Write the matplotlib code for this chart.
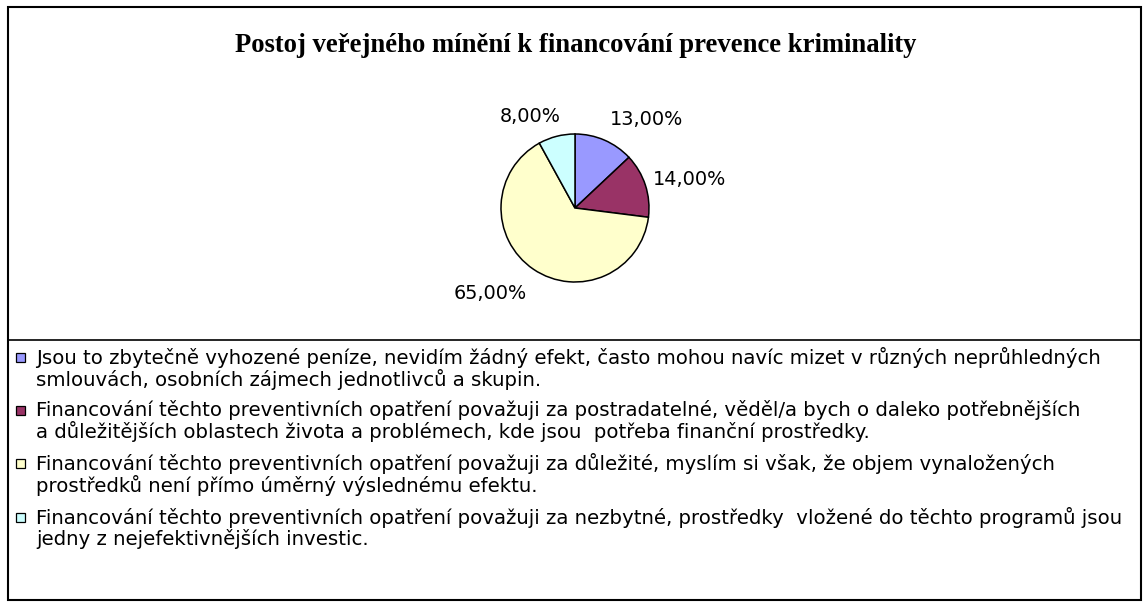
import matplotlib
matplotlib.use("Agg")
import matplotlib.pyplot as plt
from matplotlib.patches import Rectangle
from matplotlib.lines import Line2D

# ---- data ----
title = "Postoj veřejného mínění k financování prevence kriminality"
values = [13.0, 14.0, 65.0, 8.0]
pct_labels = ["13,00%", "14,00%", "65,00%", "8,00%"]
colors = ["#9999FF", "#993366", "#FFFFCC", "#CCFFFF"]
legend_lines = [
    ["Jsou to zbytečně vyhozené peníze, nevidím žádný efekt, často mohou navíc mizet v různých neprůhledných",
     "smlouvách, osobních zájmech jednotlivců a skupin."],
    ["Financování těchto preventivních opatření považuji za postradatelné, věděl/a bych o daleko potřebnějších",
     "a důležitějších oblastech života a problémech, kde jsou  potřeba finanční prostředky."],
    ["Financování těchto preventivních opatření považuji za důležité, myslím si však, že objem vynaložených",
     "prostředků není přímo úměrný výslednému efektu."],
    ["Financování těchto preventivních opatření považuji za nezbytné, prostředky  vložené do těchto programů jsou",
     "jedny z nejefektivnějších investic."],
]

W, H = 1143, 603
fig = plt.figure(figsize=(W / 100, H / 100), dpi=100)
fig.patch.set_facecolor("white")

SANS = "DejaVu Sans"

def fx(x):
    return x / W

def fy(y):
    return 1 - y / H

renderer = fig.canvas.get_renderer()

def fit_text(x, y, s, target_w, **kw):
    t = fig.text(fx(x), fy(y), s, **kw)
    size = kw.get("fontsize", 12)
    w = t.get_window_extent(renderer).width
    t.set_fontsize(size * target_w / w)
    return t

# ---- frame ----
fig.add_artist(Rectangle((fx(8), fy(600)), fx(1141) - fx(8), fy(7) - fy(600),
                         transform=fig.transFigure, fill=False, edgecolor="black", linewidth=1.5))
fig.add_artist(Line2D([fx(8), fx(1141)], [fy(340), fy(340)], transform=fig.transFigure,
                      color="black", linewidth=1.2))

# ---- title ----
fit_text(576, 46, title, 682, ha="center", va="center", fontsize=16,
         fontweight="bold", family="Liberation Serif")

# ---- pie ----
cx, cy, r = 575, 208, 74
ax = fig.add_axes([fx(cx - r), fy(cy + r), fx(2 * r), fy(cy - r) - fy(cy + r)])
wedges, texts = ax.pie(values, colors=colors, startangle=90, counterclock=False,
                       labels=pct_labels, labeldistance=1.2,
                       wedgeprops=dict(edgecolor="black", linewidth=1.1))
ax.set_xlim(-1, 1)
ax.set_ylim(-1, 1)
ax.set_aspect("equal")
ax.axis("off")

label_pos = [(0.97, 1.20), (1.55, 0.38), (-1.15, -1.15), (-0.61, 1.24)]
for t, p in zip(texts, label_pos):
    t.set_position(p)
    t.set_ha("center")
    t.set_va("center")
    t.set_family(SANS)
    t.set_fontsize(12)
    t.set_clip_on(False)
w13 = texts[0].get_window_extent(renderer).width
for t in texts:
    t.set_fontsize(12 * 73 / w13)

# ---- legend ----
row_y = [(357, 380), (410, 432), (463, 485), (517, 539)]
t0 = fig.text(fx(36), fy(row_y[0][0]), legend_lines[0][0], ha="left", va="center",
              fontsize=12, family=SANS)
lw = t0.get_window_extent(renderer).width
lsize = 12 * 1065 / lw
t0.set_fontsize(lsize)
for i, (lines, (y1, y2), c) in enumerate(zip(legend_lines, row_y, colors)):
    if i > 0:
        fig.text(fx(36), fy(y1), lines[0], ha="left", va="center", fontsize=lsize,
                 family=SANS)
    fig.text(fx(36), fy(y2), lines[1], ha="left", va="center", fontsize=lsize,
             family=SANS)
    fig.add_artist(Rectangle((fx(16), fy(y1 + 4.5)), fx(9), fy(y1 - 4.5) - fy(y1 + 4.5),
                             transform=fig.transFigure, facecolor=c, edgecolor="black",
                             linewidth=0.9))

fig.savefig("out.png", dpi=100)
